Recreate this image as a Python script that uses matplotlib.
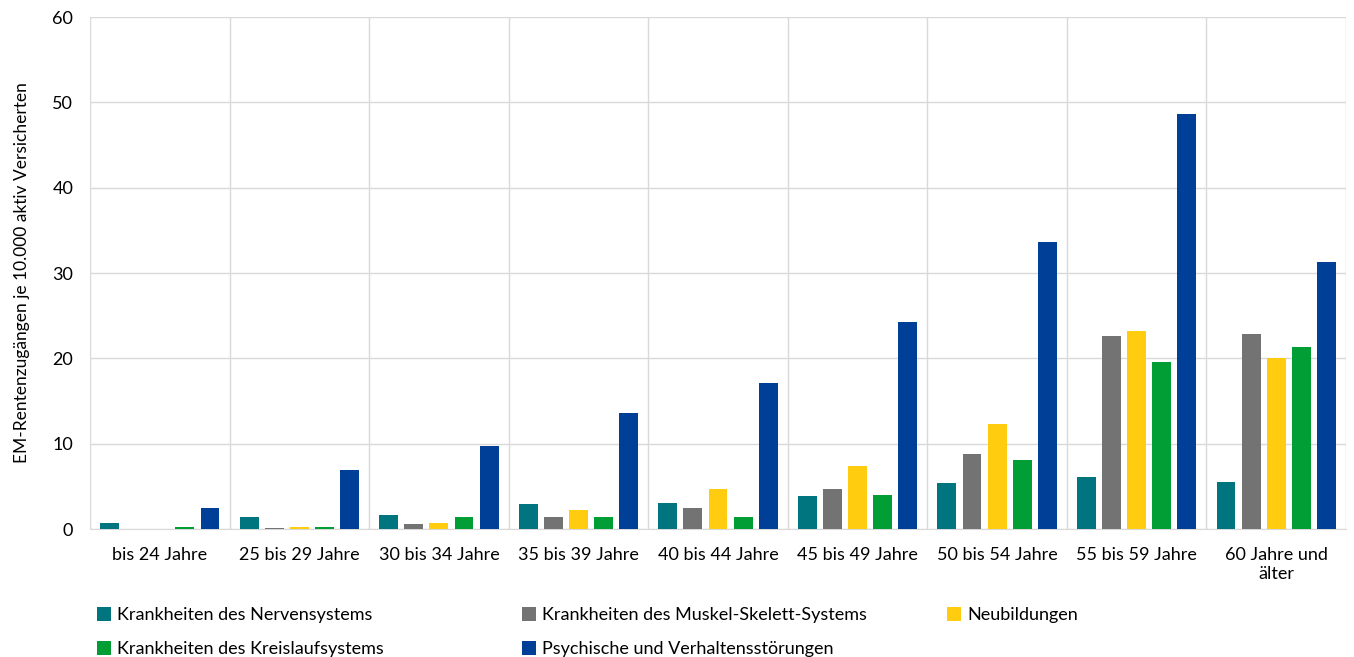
import matplotlib.pyplot as plt
import numpy as np

plt.rcParams['font.family'] = ['Lato', 'DejaVu Sans']

categories = ["bis 24 Jahre", "25 bis 29 Jahre", "30 bis 34 Jahre", "35 bis 39 Jahre",
              "40 bis 44 Jahre", "45 bis 49 Jahre", "50 bis 54 Jahre", "55 bis 59 Jahre",
              "60 Jahre und\nälter"]

nerven = [0.7, 1.45, 1.6, 2.9, 3.0, 3.9, 5.4, 6.1, 5.55]
muskel = [0.0, 0.15, 0.6, 1.45, 2.5, 4.65, 8.8, 22.6, 22.9]
neubildungen = [0.0, 0.27, 0.75, 2.25, 4.7, 7.35, 12.25, 23.2, 20.0]
kreislauf = [0.2, 0.27, 1.45, 1.45, 1.4, 3.95, 8.1, 19.6, 21.3]
psychisch = [2.5, 6.9, 9.75, 13.65, 17.15, 24.3, 33.6, 48.6, 31.3]

series_names = ["Krankheiten des Nervensystems", "Krankheiten des Muskel-Skelett-Systems",
                "Neubildungen", "Krankheiten des Kreislaufsystems",
                "Psychische und Verhaltensstörungen"]
colors = ["#00747F", "#737373", "#FFCC0F", "#009E35", "#003F97"]

fig = plt.figure(figsize=(13.54, 6.57), dpi=100)
ax = fig.add_axes([90 / 1354, 1 - 529 / 657, 1256 / 1354, 512 / 657])

x = np.arange(len(categories))
slot = 0.18
width = 0.135
data = [nerven, muskel, neubildungen, kreislauf, psychisch]
handles = []
for i, (vals, name, col) in enumerate(zip(data, series_names, colors)):
    h = ax.bar(x + (i - 2) * slot, vals, width, color=col, label=name, zorder=3)
    handles.append(h)

ax.set_xlim(-0.5, len(categories) - 0.5)
ax.set_ylim(0, 60)
ax.set_yticks(range(0, 61, 10))
ax.set_xticks(x)
ax.set_xticklabels(categories, fontsize=13)
ax.tick_params(axis='y', labelsize=13, length=0, pad=12)
ax.tick_params(axis='x', length=0, pad=13)
ax.set_ylabel("EM-Rentenzugängen je 10.000 aktiv Versicherten", fontsize=12.5, labelpad=16)

ax.grid(axis='y', color='#D9D9D9', lw=1, zorder=0)
for b in np.arange(-0.5, len(categories), 1.0):
    ax.axvline(b, color='#D9D9D9', lw=1, zorder=0)
for s in ['top', 'right', 'left']:
    ax.spines[s].set_visible(False)
ax.spines['bottom'].set_color('#D9D9D9')

# legend: three columns at fixed positions, filled row by row
columns = [[0, 3], [1, 4], [2]]
col_x = [90, 515, 940]
for cx, idx in zip(col_x, columns):
    fig.legend([handles[k] for k in idx], [series_names[k] for k in idx],
               loc='upper left', bbox_to_anchor=(cx / 1354, 1 - 600 / 657),
               frameon=False, fontsize=13, handlelength=0.75, handleheight=0.75,
               handletextpad=0.35, labelspacing=1.0, borderaxespad=0)

fig.savefig("out.png", dpi=100)
